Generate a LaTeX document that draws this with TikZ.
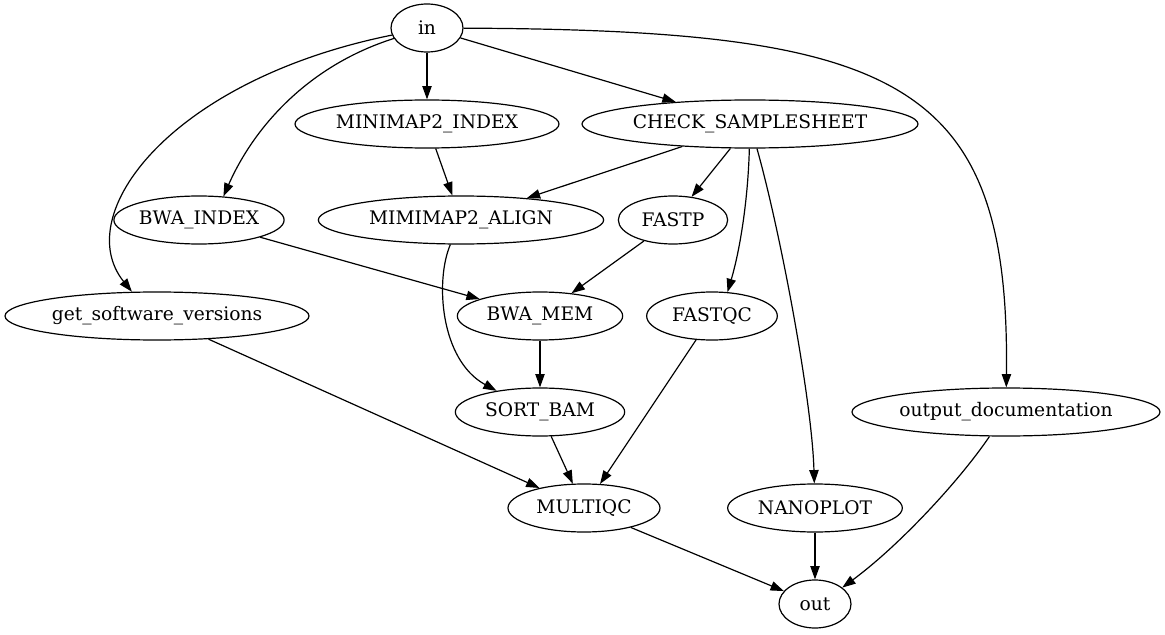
\documentclass[tikz,border=0pt]{standalone}
\usepackage{fontspec}
\setmainfont{DejaVu Serif}
\usetikzlibrary{shapes.geometric,arrows.meta}
\begin{document}
\begin{tikzpicture}[x=0.75pt, y=-0.75pt, line width=0.9pt, ->, >={Triangle[length=10pt,width=7pt]},
  proc/.style={ellipse, draw, inner sep=0pt, minimum height=36pt, font=\fontsize{14}{16}\selectfont}]
\useasboundingbox (0,0) rectangle (1165,635);
\node[proc, minimum width=54pt] (in) at (427,28) {in};
\node[proc, minimum width=198pt] (mmindex) at (427,124) {MINIMAP2\_INDEX};
\node[proc, minimum width=252pt] (checks) at (750,124) {CHECK\_SAMPLESHEET};
\node[proc, minimum width=114pt] (bwaindex) at (199,220) {BWA\_INDEX};
\node[proc, minimum width=214pt] (mmalign) at (461,220) {MIMIMAP2\_ALIGN};
\node[proc, minimum width=82pt] (fastp) at (673,220) {FASTP};
\node[proc, minimum width=228pt] (versions) at (157,316) {get\_software\_versions};
\node[proc, minimum width=124pt] (bwamem) at (540,316) {BWA\_MEM};
\node[proc, minimum width=98pt] (fastqc) at (712,316) {FASTQC};
\node[proc, minimum width=127pt] (sortbam) at (540,412) {SORT\_BAM};
\node[proc, minimum width=231pt] (outdoc) at (1006,412) {output\_documentation};
\node[proc, minimum width=114pt] (multiqc) at (584,508) {MULTIQC};
\node[proc, minimum width=131pt] (nanoplot) at (815,508) {NANOPLOT};
\node[proc, minimum width=54pt] (out) at (815,604) {out};
\draw (in) edge (mmindex);
\draw (in) edge (checks);
\draw (in) .. controls (310,65) and (255,125) .. (bwaindex.44);
\draw (in) .. controls (170,80) and (70,215) .. (versions.136);
\draw (in) .. controls (900,30) and (1010,80) .. (outdoc);
\draw (mmindex) edge (mmalign);
\draw (checks) edge (mmalign);
\draw (checks) edge (fastp);
\draw (checks) .. controls (748,200) and (740,250) .. (fastqc.57);
\draw (checks) .. controls (780,230) and (812,400) .. (nanoplot);
\draw (bwaindex) edge (bwamem);
\draw (fastp) edge (bwamem);
\draw (mmalign) .. controls (435,280) and (440,360) .. (sortbam.154);
\draw (bwamem) edge (sortbam);
\draw (versions) edge (multiqc);
\draw (sortbam) edge (multiqc);
\draw (fastqc) edge (multiqc);
\draw (multiqc) edge (out);
\draw (nanoplot) edge (out);
\draw (outdoc) .. controls (960,480) and (900,545) .. (out.31);
\end{tikzpicture}
\end{document}
